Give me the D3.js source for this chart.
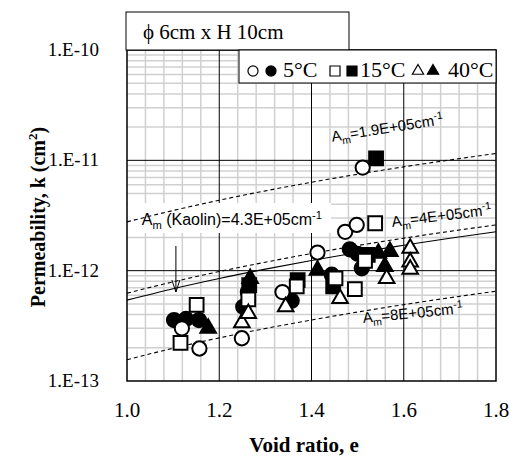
<!DOCTYPE html>
<meta charset="utf-8" />
<script src="https://d3js.org/d3.v7.min.js"></script>
<style>
  body { margin: 0; background: #fff; }
</style>
<div id="chart"></div>
<script>
  // tick values and labels
  const voidTicks = [1.0, 1.2, 1.4, 1.6, 1.8];
  const voidTickLabels = ["1.0", "1.2", "1.4", "1.6", "1.8"];
  const permTicks = [1e-13, 1e-12, 1e-11, 1e-10];
  const permTickLabels = ["1.E-13", "1.E-12", "1.E-11", "1.E-10"];

  // measured points [void ratio, permeability]
  const c5Open = [[1.119, 3.0e-13], [1.157, 1.97e-13], [1.249, 2.44e-13], [1.337, 6.4e-13],
    [1.413, 1.46e-12], [1.473, 2.25e-12], [1.498, 2.6e-12], [1.511, 8.6e-12]];
  const c5Filled = [[1.102, 3.57e-13], [1.128, 3.65e-13], [1.156, 3.57e-13], [1.252, 4.7e-13],
    [1.262, 6.4e-13], [1.357, 5.35e-13], [1.444, 9.2e-13], [1.483, 1.56e-12],
    [1.500, 1.42e-12], [1.509, 1.05e-12]];
  const c15Open = [[1.116, 2.22e-13], [1.151, 4.89e-13], [1.263, 5.5e-13], [1.368, 7.2e-13],
    [1.452, 8.5e-13], [1.494, 6.8e-13], [1.516, 1.23e-12], [1.538, 2.69e-12]];
  const c15Filled = [[1.265, 7.4e-13], [1.370, 8.2e-13], [1.447, 7.2e-13], [1.522, 1.39e-12],
    [1.540, 1.04e-11]];
  const c40Open = [[1.249, 3.37e-13], [1.263, 4.1e-13], [1.344, 4.7e-13], [1.462, 5.6e-13],
    [1.563, 8.5e-13], [1.614, 1.6e-12], [1.614, 1.2e-12], [1.614, 1.03e-12]];
  const c40Filled = [[1.176, 3.0e-13], [1.267, 8.5e-13], [1.413, 1.01e-12], [1.545, 1.44e-12],
    [1.570, 1.49e-12], [1.559, 1.09e-12]];

  // reference lines for several Am, read at these void ratios
  const lineVoid = [1.0, 1.1, 1.2, 1.3, 1.4, 1.5, 1.6, 1.7, 1.8];
  const kAm19 = [2.77e-12, 3.51e-12, 4.35e-12, 5.29e-12, 6.33e-12, 7.48e-12, 8.73e-12, 1.008e-11, 1.154e-11];
  const kAm40 = [6.25e-13, 7.92e-13, 9.82e-13, 1.194e-12, 1.429e-12, 1.69e-12, 1.97e-12, 2.27e-12, 2.60e-12];
  const kAm43 = [5.41e-13, 6.86e-13, 8.50e-13, 1.033e-12, 1.237e-12, 1.46e-12, 1.70e-12, 1.97e-12, 2.25e-12];
  const kAm80 = [1.56e-13, 1.98e-13, 2.46e-13, 2.99e-13, 3.57e-13, 4.22e-13, 4.92e-13, 5.69e-13, 6.51e-13];

  const margin = { top: 50, right: 14, bottom: 78, left: 127 },
    width = 510 - margin.left - margin.right,
    height = 459 - margin.top - margin.bottom;

  const root = d3.select("#chart").append("svg")
    .attr("width", 510).attr("height", 459);
  const svg = root.append("g")
    .attr("transform", `translate(${margin.left},${margin.top})`);

  const x = d3.scaleLinear().domain([1.0, 1.8]).range([0, width]);
  const y = d3.scaleLog().domain([1e-13, 1e-10]).range([height, 0]);

  // minor grid
  const minorX = d3.range(0, 21).map(i => 1.0 + i * 0.04).filter((v, i) => i % 5 !== 0);
  const minorY = [];
  [-13, -12, -11].forEach(p => { for (let m = 2; m <= 9; m++) minorY.push(m * Math.pow(10, p)); });

  svg.append("g").selectAll("line").data(minorX).join("line")
    .attr("x1", d => x(d)).attr("x2", d => x(d)).attr("y1", 0).attr("y2", height)
    .attr("stroke", "#d0d0d0").attr("stroke-width", 1.5);
  svg.append("g").selectAll("line").data(minorY).join("line")
    .attr("y1", d => y(d)).attr("y2", d => y(d)).attr("x1", 0).attr("x2", width)
    .attr("stroke", "#d0d0d0").attr("stroke-width", 1.5);

  // major grid
  svg.append("g").selectAll("line").data(voidTicks.slice(1, -1)).join("line")
    .attr("x1", d => x(d)).attr("x2", d => x(d)).attr("y1", 0).attr("y2", height)
    .attr("stroke", "#000").attr("stroke-width", 1);
  svg.append("g").selectAll("line").data(permTicks.slice(1, -1)).join("line")
    .attr("y1", d => y(d)).attr("y2", d => y(d)).attr("x1", 0).attr("x2", width)
    .attr("stroke", "#000").attr("stroke-width", 1);

  // white box behind the Kaolin label
  svg.append("rect").attr("x", 1).attr("y", 153).attr("width", 203).attr("height", 30)
    .attr("fill", "#fff");

  // reference lines
  const line = d3.line().x(d => x(d[0])).y(d => y(d[1])).curve(d3.curveMonotoneX);
  const refLines = [
    { k: kAm19, dash: "4,3" },
    { k: kAm40, dash: "4,3" },
    { k: kAm43, dash: null },
    { k: kAm80, dash: "4,3" },
  ];
  svg.append("g").selectAll("path").data(refLines).join("path")
    .attr("d", d => line(lineVoid.map((e, i) => [e, d.k[i]])))
    .attr("fill", "none").attr("stroke", "#000").attr("stroke-width", 1.1)
    .attr("stroke-dasharray", d => d.dash);

  // plot border
  svg.append("rect").attr("width", width).attr("height", height)
    .attr("fill", "none").attr("stroke", "#000").attr("stroke-width", 1.5);

  // markers
  const series = [
    { data: c5Filled, type: d3.symbolCircle, size: 160, open: false },
    { data: c15Filled, type: d3.symbolSquare, size: 190, open: false },
    { data: c40Filled, type: d3.symbolTriangle, size: 105, open: false },
    { data: c5Open, type: d3.symbolCircle, size: 160, open: true },
    { data: c15Open, type: d3.symbolSquare, size: 190, open: true },
    { data: c40Open, type: d3.symbolTriangle, size: 105, open: true },
  ];
  series.forEach(s => {
    svg.append("g").selectAll("path").data(s.data).join("path")
      .attr("transform", d => `translate(${x(d[0])},${y(d[1])})`)
      .attr("d", d3.symbol().type(s.type).size(s.size))
      .attr("fill", s.open ? "#fff" : "#000")
      .attr("stroke", "#000").attr("stroke-width", 2);
  });

  // tick labels
  svg.append("g").selectAll("text").data(voidTicks).join("text")
    .attr("x", d => x(d)).attr("y", height + 36)
    .attr("text-anchor", "middle")
    .style("font", "21px 'Liberation Serif', 'Times New Roman', serif")
    .text((d, i) => voidTickLabels[i]);
  svg.append("g").selectAll("text").data(permTicks).join("text")
    .attr("x", -28).attr("y", d => y(d) + 6)
    .attr("text-anchor", "end")
    .style("font", "19px 'Liberation Serif', 'Times New Roman', serif")
    .text((d, i) => permTickLabels[i]);

  // axis titles
  root.append("text").attr("x", 304).attr("y", 452).attr("text-anchor", "middle")
    .style("font", "bold 21px 'Liberation Serif', 'Times New Roman', serif")
    .text("Void ratio, e");
  const yt = root.append("text")
    .attr("transform", "translate(45,217) rotate(-90)")
    .attr("text-anchor", "middle")
    .style("font", "bold 20px 'Liberation Serif', 'Times New Roman', serif");
  yt.append("tspan").text("Permeability, k (cm");
  yt.append("tspan").attr("dy", -8).style("font-size", "13px").text("2");
  yt.append("tspan").attr("dy", 8).text(")");

  // line labels
  function amLabel(g, value, fs) {
    const t = g.append("text").style("font", fs + "px 'Liberation Sans', Arial, sans-serif");
    t.append("tspan").text("A");
    t.append("tspan").attr("dy", 4).style("font-size", (fs * 0.7) + "px").text("m");
    t.append("tspan").attr("dy", -4).text(value + "cm");
    t.append("tspan").attr("dy", -6).style("font-size", (fs * 0.7) + "px").text("-1");
    return t;
  }
  const lab19 = svg.append("g").attr("transform", `translate(${x(1.445)},${y(1.47e-11)}) rotate(-9)`);
  amLabel(lab19, "=1.9E+05", 15);
  const lab40 = svg.append("g").attr("transform", `translate(${x(1.575)},${y(2.49e-12)}) rotate(-7)`);
  amLabel(lab40, "=4E+05", 15);
  const lab80 = svg.append("g").attr("transform", `translate(${x(1.512)},${y(3.36e-13)}) rotate(-5.5)`);
  amLabel(lab80, "=8E+05", 15);
  const labK = svg.append("g").attr("transform", `translate(${x(1.032)},${y(2.6e-12)})`);
  amLabel(labK, " (Kaolin)=4.3E+05", 16);

  // arrow to the Kaolin line
  const ax = x(1.106);
  svg.append("path")
    .attr("d", `M${ax},196V242M${ax - 4},230L${ax},242L${ax + 4},230`)
    .attr("fill", "none").attr("stroke", "#000").attr("stroke-width", 1);

  // title box
  root.append("rect").attr("x", 126).attr("y", 12).attr("width", 223).attr("height", 38)
    .attr("fill", "#fff").attr("stroke", "#000").attr("stroke-width", 1);
  root.append("text").attr("x", 143).attr("y", 39)
    .style("font", "21px 'Liberation Serif', 'Times New Roman', serif")
    .text("\u03D5 6cm x H 10cm");

  // legend box
  root.append("rect").attr("x", 239).attr("y", 50).attr("width", 257).attr("height", 33)
    .attr("fill", "#fff").attr("stroke", "#000").attr("stroke-width", 1);
  const legendItems = [
    { type: d3.symbolCircle, size: 80, xs: [253, 271], tx: 283, label: "5°C" },
    { type: d3.symbolSquare, size: 100, xs: [335, 352], tx: 360, label: "15°C" },
    { type: d3.symbolTriangle, size: 55, xs: [418, 433], tx: 448, label: "40°C" },
  ];
  legendItems.forEach(it => {
    it.xs.forEach((lx, i) => {
      root.append("path").attr("transform", `translate(${lx},71)`)
        .attr("d", d3.symbol().type(it.type).size(it.size))
        .attr("fill", i === 0 ? "#fff" : "#000").attr("stroke", "#000").attr("stroke-width", 1.2);
    });
    root.append("text").attr("x", it.tx).attr("y", 77)
      .style("font", "22px 'Liberation Serif', 'Times New Roman', serif")
      .text(it.label);
  });
</script>
